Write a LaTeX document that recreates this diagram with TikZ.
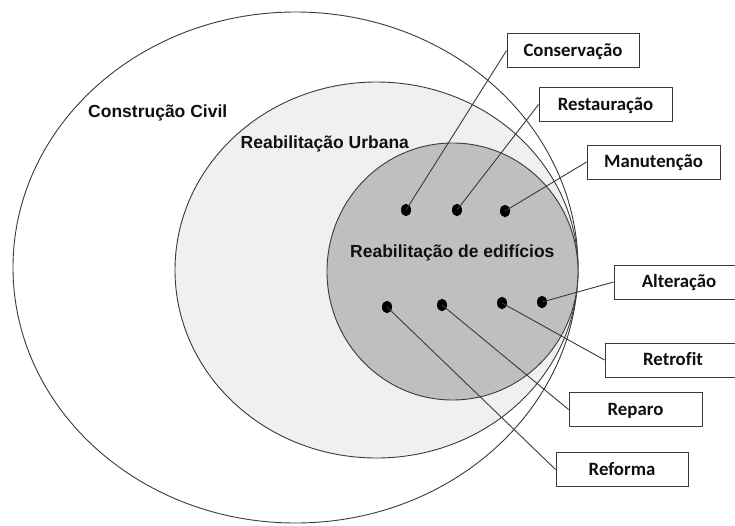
\documentclass[tikz,border=0pt]{standalone}
\usepackage{fontspec}
\setmainfont{Liberation Sans}
\newfontfamily\boxfont[Ligatures=NoCommon]{Carlito}
\usetikzlibrary{shapes.geometric}
\definecolor{edge}{HTML}{3A3A3A}
\definecolor{ink}{HTML}{101010}
\definecolor{urbanfill}{HTML}{F0F0F0}
\definecolor{buildfill}{HTML}{BFBFBF}
\begin{document}
\begin{tikzpicture}[x=1pt,y=-1pt,
  zone/.style={draw=edge,line width=0.9pt},
  zonelabel/.style={anchor=base west,inner sep=0pt,text=ink,
    font=\fontsize{17.5}{20}\selectfont\bfseries},
  tag/.style={draw=edge,fill=white,line width=0.9pt,inner sep=0pt,
    minimum height=34pt,text height=12.5pt,text depth=1.5pt,text=ink,
    font=\boxfont\fontsize{18.8}{22}\selectfont\bfseries},
  dot/.style={ellipse,fill=black,inner sep=0pt,minimum width=10pt,minimum height=12.5pt},
  leader/.style={draw=edge,line width=0.9pt}]
\useasboundingbox (0,0) rectangle (735,525);
\clip (0,0) rectangle (735,525);

% nested scopes: civil construction > urban rehabilitation > building rehabilitation
\draw[zone,fill=white] (295.5,267.5) ellipse [x radius=282.5pt,y radius=255.5pt];
\draw[zone,fill=urbanfill] (376.5,270) ellipse [x radius=201.5pt,y radius=188pt];
\draw[zone,fill=buildfill] (452.5,271.5) ellipse [x radius=125.5pt,y radius=128.5pt];

\node[zonelabel] (civil) at (88,117.5) {Construção Civil};
\node[zonelabel] (urban) at (240.5,148) {Reabilitação Urbana};
\node[zonelabel] (build) at (350,257) {Reabilitação de edifícios};

% intervention types
\node[tag,minimum width=132pt] (cons) at (573,50.5) {Conservação};
\node[tag,minimum width=133pt] (rest) at (605.5,104.5) {Restauração};
\node[tag,minimum width=133pt] (manu) at (653.5,162) {Manutenção};
\node[tag,minimum width=130pt] (alte) at (679,282) {Alteração};
\node[tag,minimum width=136pt] (retr) at (673,360) {Retrofit};
\node[tag,minimum width=133pt] (repa) at (635.5,409.5) {Reparo};
\node[tag,minimum width=132pt] (refo) at (622,469.5) {Reforma};

\node[dot] (dcons) at (406,210) {};
\node[dot] (drest) at (457,210) {};
\node[dot] (dmanu) at (505,211) {};
\node[dot] (dalte) at (542,302) {};
\node[dot] (dretr) at (502,303) {};
\node[dot] (drepa) at (442,305) {};
\node[dot] (drefo) at (387,307) {};

\draw[leader] (dcons.center) -- (cons.west);
\draw[leader] (drest.center) -- (rest.west);
\draw[leader] (dmanu.center) -- (manu.west);
\draw[leader] (dalte.center) -- (alte.west);
\draw[leader] (dretr.center) -- (retr.west);
\draw[leader] (drepa.center) -- (repa.west);
\draw[leader] (drefo.center) -- (refo.west);
\end{tikzpicture}
\end{document}
